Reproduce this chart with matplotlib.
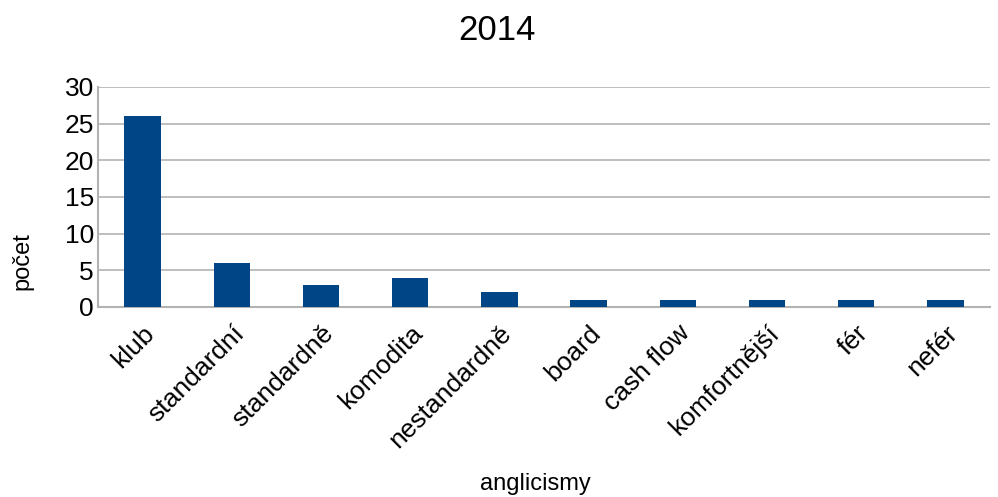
import matplotlib
matplotlib.use("Agg")
import matplotlib.pyplot as plt

plt.rcParams['font.family'] = ['Liberation Sans', 'DejaVu Sans']

categories = ["klub", "standardní", "standardně", "komodita", "nestandardně",
              "board", "cash flow", "komfortnější", "fér", "nefér"]
counts = [26, 6, 3, 4, 2, 1, 1, 1, 1, 1]
y_ticks = [0, 5, 10, 15, 20, 25, 30]

fig = plt.figure(figsize=(9.98, 4.97), dpi=100)
ax = fig.add_axes([98 / 998, 1 - 307 / 497, (990 - 98) / 998, (307 - 87) / 497])

x = list(range(len(categories)))
ax.bar(x, counts, width=0.41, color="#004586", zorder=3)

ax.set_xlim(-0.5, len(categories) - 0.5)
ax.set_ylim(0, 30)
ax.set_yticks(y_ticks)
ax.set_yticklabels([str(v) for v in y_ticks], fontsize=19)
ax.set_xticks(x)
ax.set_xticklabels(categories, rotation=45, ha="right", va="top",
                   rotation_mode="anchor", fontsize=19)
ax.tick_params(axis="both", length=0)
ax.tick_params(axis="y", pad=3)
ax.tick_params(axis="x", pad=10)

ax.yaxis.grid(True, color="#b3b3b3", linewidth=1.2, zorder=0)
for side in ["left", "bottom"]:
    ax.spines[side].set_color("#b3b3b3")
    ax.spines[side].set_linewidth(1.5)
for side in ["top", "right"]:
    ax.spines[side].set_visible(False)

fig.text(22 / 998, 1 - 261 / 497, "počet", fontsize=17, rotation=90,
         ha="center", va="center")
fig.text(535 / 998, 1 - 484 / 497, "anglicismy", fontsize=17,
         ha="center", va="center")
fig.text(497 / 998, 1 - 31 / 497, "2014", fontsize=25,
         ha="center", va="center")

fig.savefig("out.png", dpi=100)
